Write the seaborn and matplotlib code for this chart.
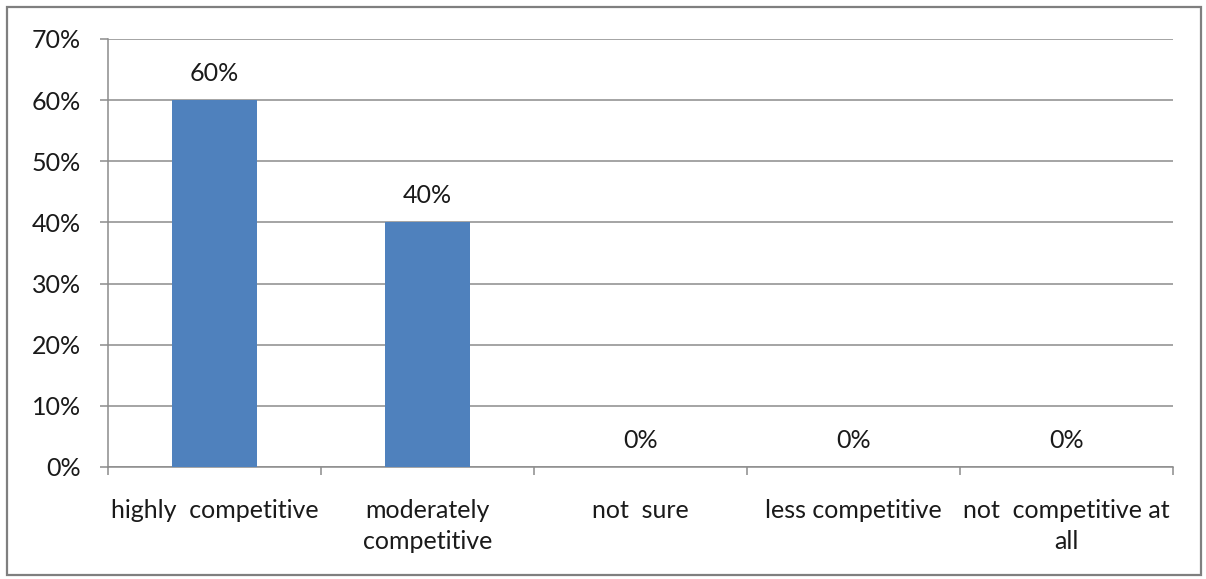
import matplotlib
matplotlib.use("Agg")
import matplotlib.pyplot as plt
from matplotlib.patches import FancyBboxPatch
import seaborn as sns
import pandas as pd

categories = ["highly  competitive", "moderately\ncompetitive", "not  sure",
              "less competitive", "not  competitive at\nall"]
shares = [60, 40, 0, 0, 0]
value_labels = ["60%", "40%", "0%", "0%", "0%"]
y_ticks = [0, 10, 20, 30, 40, 50, 60, 70]
y_tick_labels = ["0%", "10%", "20%", "30%", "40%", "50%", "60%", "70%"]

sns.set_theme(style="white")
plt.rcParams["font.family"] = ["Lato", "DejaVu Sans"]

df = pd.DataFrame({"category": categories, "share": shares})

fig = plt.figure(figsize=(12.06, 5.79), dpi=100)
ax = fig.add_axes([108 / 1206, 1 - 467 / 579, (1173 - 108) / 1206, (467 - 39) / 579])

grid_c = "#8c8c8c"
text_c = "#1a1a1a"
fs = 18
sns.barplot(data=df, x="category", y="share", order=categories, color="#4f81bd",
            width=0.4, saturation=1, linewidth=0, ax=ax, zorder=3)

ax.set_ylim(0, 70)
ax.set_xlim(-0.5, len(categories) - 0.5)
ax.set_yticks(y_ticks)
ax.set_yticklabels(y_tick_labels)
ax.yaxis.grid(True, color=grid_c, linewidth=1.1)
ax.set_axisbelow(True)
ax.set_xlabel("")
ax.set_ylabel("")

# category labels centred, tick marks at category boundaries
ax.set_xticks(range(len(categories)))
ax.set_xticklabels(categories, linespacing=1.45)
ax.set_xticks([i - 0.5 for i in range(len(categories) + 1)], minor=True)
ax.tick_params(axis="x", which="major", length=0, pad=23, labelsize=fs, colors=text_c)
ax.tick_params(axis="x", which="minor", length=5.5, width=1.1, color=grid_c, direction="out")
ax.tick_params(axis="y", length=5.5, width=1.1, color=grid_c, direction="out", pad=14,
               labelsize=fs, labelcolor=text_c)
ax.xaxis.set_ticks_position("bottom")
ax.yaxis.set_ticks_position("left")

for name, sp in ax.spines.items():
    if name in ("left", "bottom"):
        sp.set_color(grid_c)
        sp.set_linewidth(1.1)
    else:
        sp.set_visible(False)

for i, (v, lab) in enumerate(zip(shares, value_labels)):
    ax.annotate(lab, xy=(i, v), xytext=(0, 11), textcoords="offset points",
                ha="center", va="bottom", fontsize=fs, color=text_c)

# chart area frame
frame = FancyBboxPatch((7 / 1206, 4 / 579), 1194 / 1206, 568 / 579,
                       boxstyle="square,pad=0", transform=fig.transFigure,
                       fill=False, edgecolor="#7f7f7f", linewidth=1.6)
fig.patches.append(frame)

fig.savefig("out.png", dpi=100)
